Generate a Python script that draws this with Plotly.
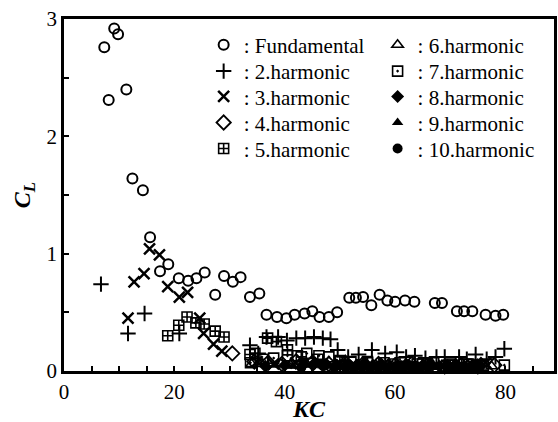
import plotly.graph_objects as go

# Lift coefficient harmonics C_L versus Keulegan-Carpenter number KC
fund_kc = [7.3, 8.1, 9.1, 9.8, 11.3, 12.4, 14.3, 15.6, 17.4, 18.9, 20.8, 22.5, 24.0, 25.5,
           27.4, 29.0, 30.6, 32.0, 33.7, 35.4, 36.7, 38.6, 40.3, 41.8, 43.6, 45.0, 46.3,
           48.0, 49.5, 51.7, 52.9, 54.2, 55.7, 57.2, 58.6, 60.0, 61.8, 63.5, 67.2, 68.5,
           71.2, 72.5, 74.0, 76.4, 78.2, 79.6]
fund_cl = [2.76, 2.31, 2.92, 2.87, 2.40, 1.64, 1.54, 1.14, 0.85, 0.91, 0.79, 0.77, 0.79, 0.84,
           0.65, 0.81, 0.76, 0.80, 0.63, 0.66, 0.48, 0.46, 0.45, 0.48, 0.49, 0.51, 0.46,
           0.46, 0.50, 0.625, 0.625, 0.63, 0.56, 0.65, 0.60, 0.59, 0.60, 0.59, 0.58, 0.58,
           0.51, 0.51, 0.51, 0.48, 0.47, 0.48]

h2_kc = [6.7, 11.6, 14.6, 20.9, 33.7, 35.2, 36.7, 38.8, 40.4, 42.1, 43.7, 45.3, 46.9, 48.3,
         49.6, 51.5, 53.4, 55.8, 58.2, 60.3, 62.0, 63.6, 65.5, 67.5, 69.0, 71.6, 73.0, 74.6,
         76.6, 78.2, 79.8]
h2_cl = [0.74, 0.32, 0.49, 0.32, 0.22, 0.15, 0.29, 0.29, 0.26, 0.28, 0.28, 0.29, 0.28, 0.27,
         0.18, 0.12, 0.14, 0.18, 0.15, 0.16, 0.12, 0.13, 0.11, 0.12, 0.12, 0.12, 0.10, 0.14,
         0.10, 0.12, 0.19]

h3_kc = [11.6, 12.7, 14.5, 15.5, 17.3, 18.8, 20.9, 22.4, 24.6, 25.3, 27.1, 28.6, 35.0, 38.0,
         42.0, 46.0, 50.0, 54.0, 58.0, 62.0, 66.0, 70.0, 74.0, 76.4]
h3_cl = [0.45, 0.76, 0.83, 1.04, 0.99, 0.72, 0.63, 0.67, 0.45, 0.32, 0.23, 0.17, 0.08, 0.06,
         0.07, 0.05, 0.06, 0.05, 0.06, 0.04, 0.05, 0.04, 0.05, 0.07]

h4_kc = [30.5, 34.5, 37.0, 39.5, 42.0, 45.0, 48.0, 51.0, 54.0, 57.0, 60.0, 63.0, 66.0, 69.0,
         72.0, 75.0, 78.0]
h4_cl = [0.15, 0.08, 0.07, 0.06, 0.08, 0.07, 0.06, 0.07, 0.05, 0.06, 0.05, 0.06, 0.05, 0.04,
         0.05, 0.04, 0.05]

h5_kc = [18.8, 20.8, 22.3, 23.9, 25.4, 27.4, 29.0, 33.7, 34.6, 36.9, 38.5, 40.5, 43.0, 46.0,
         50.0, 55.0, 60.0, 65.0, 70.0, 75.0]
h5_cl = [0.30, 0.39, 0.46, 0.41, 0.40, 0.34, 0.29, 0.14, 0.15, 0.28, 0.25, 0.18, 0.12, 0.10,
         0.08, 0.07, 0.06, 0.06, 0.05, 0.05]

h6_kc = [34.0, 35.7, 39.3, 41.0, 44.0, 47.0, 50.5, 53.5, 56.5, 59.5, 62.5, 65.5, 68.5, 71.5,
         74.5, 77.5]
h6_cl = [0.06, 0.06, 0.06, 0.05, 0.06, 0.05, 0.06, 0.05, 0.05, 0.04, 0.05, 0.04, 0.05, 0.04,
         0.05, 0.04]

h7_kc = [33.8, 36.0, 38.0, 40.5, 42.3, 44.0, 46.2, 48.0, 50.0, 52.0, 55.0, 58.0, 61.0, 64.0,
         67.0, 70.0, 73.0, 76.0, 79.8]
h7_cl = [0.07, 0.10, 0.11, 0.13, 0.13, 0.15, 0.13, 0.12, 0.09, 0.08, 0.08, 0.07, 0.07, 0.06,
         0.07, 0.06, 0.06, 0.05, 0.05]

h8_kc = [36.5, 40.0, 43.5, 45.5, 47.5, 49.5, 51.5, 53.0, 54.5, 56.0, 57.5, 59.0, 60.5, 62.0,
         63.5, 65.0, 66.5, 68.0, 69.5, 71.0, 72.5, 74.0, 75.5]
h8_cl = [0.04, 0.05, 0.06, 0.07, 0.06, 0.05, 0.06, 0.05, 0.07, 0.05, 0.06, 0.04, 0.05, 0.06,
         0.04, 0.05, 0.06, 0.04, 0.05, 0.06, 0.04, 0.05, 0.04]

h9_kc = [38.3, 41.5, 44.8, 46.8, 48.8, 50.8, 52.3, 53.8, 55.3, 56.8, 58.3, 59.8, 61.3, 62.8,
         64.3, 65.8, 67.3, 68.8, 70.3, 71.8, 73.3, 74.8]
h9_cl = [0.05, 0.04, 0.05, 0.06, 0.04, 0.05, 0.04, 0.05, 0.04, 0.05, 0.03, 0.04, 0.05, 0.03,
         0.04, 0.05, 0.03, 0.04, 0.03, 0.04, 0.03, 0.04]

h10_kc = [43.0, 47.0, 49.0, 51.0, 52.5, 54.0, 55.5, 57.0, 58.5, 60.0, 61.5, 63.0, 64.5, 66.0,
          67.7, 69.5, 71.0, 72.5, 74.0]
h10_cl = [0.03, 0.04, 0.03, 0.03, 0.02, 0.03, 0.02, 0.03, 0.02, 0.03, 0.02, 0.03, 0.02, 0.03,
          -0.02, 0.02, 0.03, 0.02, 0.02]

series_names = [": Fundamental", ": 2.harmonic", ": 3.harmonic", ": 4.harmonic",
                ": 5.harmonic", ": 6.harmonic", ": 7.harmonic", ": 8.harmonic",
                ": 9.harmonic", ": 10.harmonic"]

FONT = "Liberation Serif"
INK = "black"

series = [
    (fund_kc, fund_cl, dict(symbol="circle-open", size=10, color=INK, line=dict(width=2, color=INK))),
    (h2_kc, h2_cl, dict(symbol="cross-thin-open", size=11, color=INK, line=dict(width=2, color=INK))),
    (h3_kc, h3_cl, dict(symbol="x-thin-open", size=11, color=INK, line=dict(width=2.5, color=INK))),
    (h4_kc, h4_cl, dict(symbol="diamond-open", size=11, color=INK, line=dict(width=1.8, color=INK))),
    (h5_kc, h5_cl, dict(symbol="square-cross-open", size=10, color=INK, line=dict(width=1.6, color=INK))),
    (h6_kc, h6_cl, dict(symbol="triangle-up-open", size=10, color=INK, line=dict(width=1.6, color=INK))),
    (h7_kc, h7_cl, dict(symbol="square-open-dot", size=10, color=INK, line=dict(width=1.6, color=INK))),
    (h8_kc, h8_cl, dict(symbol="diamond", size=10, color=INK, line=dict(width=0))),
    (h9_kc, h9_cl, dict(symbol="triangle-up", size=10, color=INK, line=dict(width=0))),
    (h10_kc, h10_cl, dict(symbol="circle", size=10, color=INK, line=dict(width=0))),
]

# legend slots: two columns of five rows inside the plot area
col_x = [0.285, 0.285, 0.285, 0.285, 0.285, 0.64, 0.64, 0.64, 0.64, 0.64]
row_y = [0.926, 0.851, 0.779, 0.705, 0.631, 0.926, 0.851, 0.779, 0.705, 0.631]

fig = go.Figure()
layout_legends = {}
for i, ((xs, ys, mk), name) in enumerate(zip(series, series_names)):
    key = "legend" if i == 0 else f"legend{i + 1}"
    fig.add_trace(go.Scatter(x=xs, y=ys, mode="markers", name=name, marker=mk,
                             cliponaxis=False, legend=key))
    layout_legends[key] = dict(x=col_x[i], y=row_y[i], xanchor="left", yanchor="middle",
                               bgcolor="rgba(0,0,0,0)", borderwidth=0,
                               font=dict(family=FONT, size=21, color=INK),
                               itemwidth=30, tracegroupgap=0)

fig.update_layout(
    width=558, height=422,
    margin=dict(l=64, r=1, t=19, b=50),
    paper_bgcolor="white", plot_bgcolor="white",
    font=dict(family=FONT, color=INK),
    showlegend=True,
    **layout_legends,
)

fig.update_xaxes(
    range=[0, 88.8], showgrid=False, zeroline=False,
    showline=True, linecolor=INK, linewidth=2.5, mirror=True,
    ticks="inside", ticklen=5, tickwidth=1.5, tickcolor=INK,
    tickvals=[0, 20, 40, 60, 80], ticktext=["0", "20", "40", "60", "80"],
    tickfont=dict(family=FONT, size=21, color=INK),
    minor=dict(dtick=5, ticks="inside", ticklen=5, tickwidth=1.5, tickcolor=INK, showgrid=False),
    title=dict(text="<b><i>KC</i></b>", font=dict(family=FONT, size=24, color=INK), standoff=0),
)
fig.update_yaxes(
    range=[0, 3], showgrid=False, zeroline=False,
    showline=True, linecolor=INK, linewidth=2.5, mirror=True,
    ticks="inside", ticklen=5, tickwidth=1.5, tickcolor=INK,
    tickvals=[0, 1, 2, 3], ticktext=["0", "1", "2", "3"],
    tickfont=dict(family=FONT, size=21, color=INK),
    minor=dict(dtick=0.5, ticks="inside", ticklen=5, tickwidth=1.5, tickcolor=INK, showgrid=False),
    title=dict(text="<b><i>C</i></b><sub><b><i>L</i></b></sub>",
               font=dict(family=FONT, size=24, color=INK), standoff=10),
)

fig.write_html("out.html")
